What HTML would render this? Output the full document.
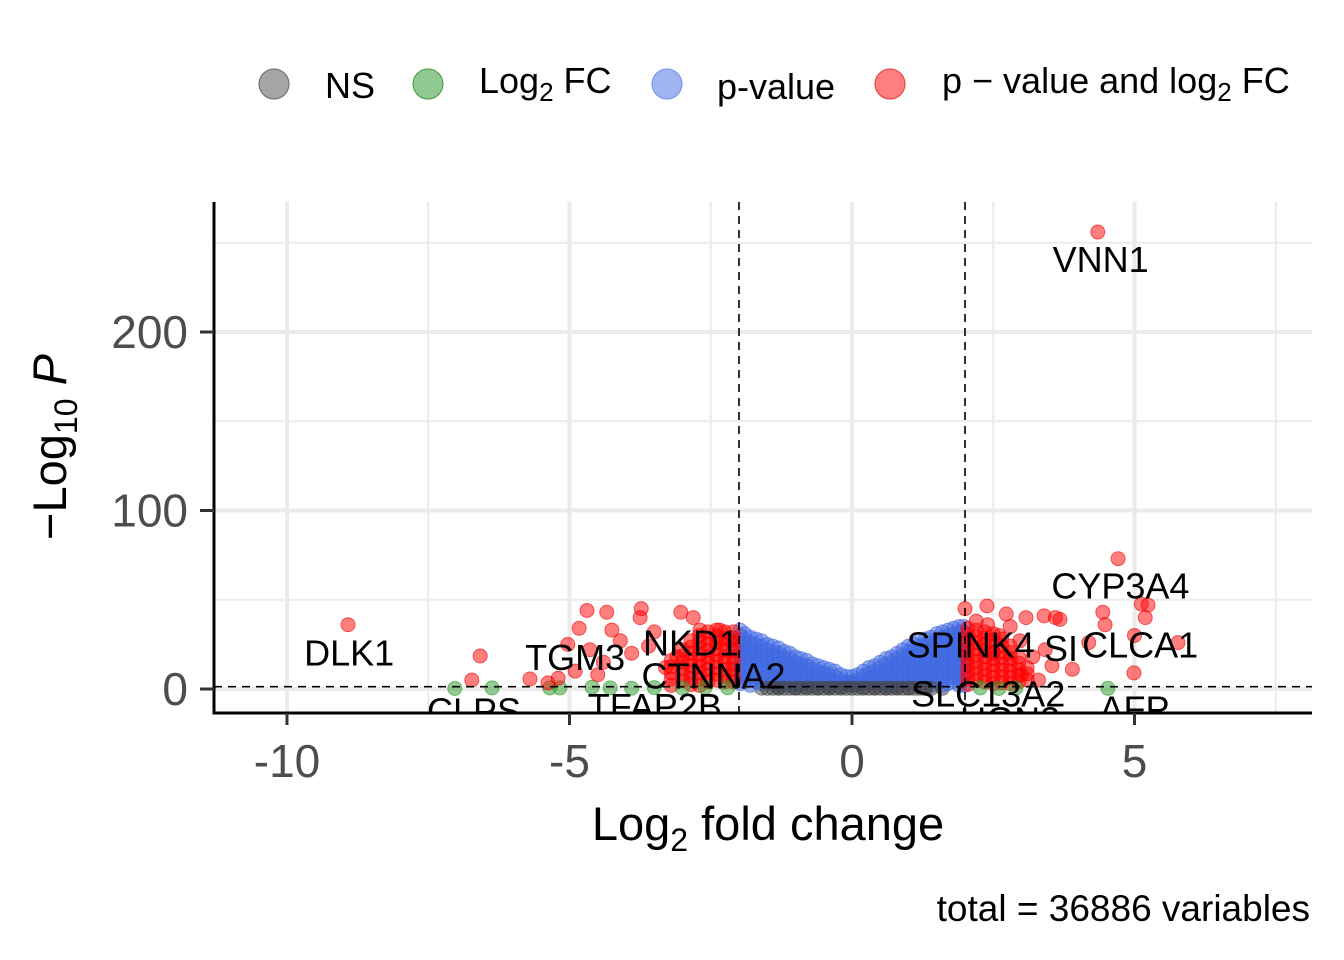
<!DOCTYPE html>
<html><head><meta charset="utf-8"><style>
body{margin:0;background:#fff}
svg{display:block;font-family:"Liberation Sans",Arial,sans-serif}
</style></head><body>
<svg id="chart" width="1344" height="960" viewBox="0 0 1344 960">
<defs><clipPath id="pc"><rect x="214" y="202" width="1098" height="511"/></clipPath></defs>
<g id="grid"></g>
<g id="pts" clip-path="url(#pc)"></g>
<g id="labs" clip-path="url(#pc)"></g>
<g id="axes"></g>
<g font-size="36" fill="#000">
  <circle cx="274" cy="84" r="15" fill="#7f7f7f" fill-opacity="0.7" stroke="#666"/>
  <text x="325" y="98">NS</text>
  <circle cx="428" cy="84" r="15" fill="#55aa55" fill-opacity="0.65" stroke="#3a9a3a"/>
  <text x="479" y="93">Log<tspan font-size="26" dy="8">2</tspan><tspan dy="-8"> FC</tspan></text>
  <circle cx="667" cy="84" r="15" fill="#4169e1" fill-opacity="0.5" stroke="#6d8ff0"/>
  <text x="717" y="99">p-value</text>
  <circle cx="890" cy="84" r="15" fill="#f00" fill-opacity="0.5" stroke="#e33"/>
  <text x="942" y="93">p − value and log<tspan font-size="26" dy="8">2</tspan><tspan dy="-8"> FC</tspan></text>
</g>
<text x="66" y="447" transform="rotate(-90 66 447)" text-anchor="middle" font-size="47">−Log<tspan font-size="32" dy="11">10</tspan><tspan dy="-11"> </tspan><tspan font-style="italic">P</tspan></text>
<text x="768" y="840" text-anchor="middle" font-size="47">Log<tspan font-size="32" dy="11">2</tspan><tspan dy="-11"> fold change</tspan></text>
<text x="1310" y="921" text-anchor="end" font-size="37">total = 36886 variables</text>
</svg>
<script>
const xTicks=[-10,-5,0,5];
const xMinor=[-7.5,-2.5,2.5,7.5];
const yTicks=[0,100,200];
const yMinor=[50,150,250];
const fcCut=[-2,2];
const pCut=1.3;
// scattered red points (log2FC, -log10P)
const redX=[4.35,4.71,-8.92,-6.58,-6.73,-5.7,-5.38,-4.69,-4.34,-3.73,-3.03,-2.81,-4.83,-4.25,-3.75,-3.5,-5.03,-4.64,-4.1,-2.69,-2.34,-2.16,-4.4,-3.9,-3.3,-3.1,-4.9,-5.2,-4.5,-3.6,
 2.0,2.39,2.73,3.08,3.4,3.68,4.44,4.48,5.12,5.24,5.19,4.19,5.77,4.99,3.9,3.54,3.42,2.97,3.2,2.6,2.5,3.0,2.8,3.3,5.0,2.2,2.4,3.6];
const redY=[256,73,36,18.5,5,5.6,3.4,44,43,45,43,40,34,33,40,32,25,22,27,33,33,27,15,20,12,18,10,6,8,24,
 45,46.5,42,40,41,39,43,36,47.6,47,40,26,26,9,11,13,22,27,18,30,20,8,35,5,30,38,36,40];
// dense red band columns: x and top value
const redBandX=[-3.2,-3.0,-2.85,-2.7,-2.55,-2.4,-2.25,-2.1,2.05,2.2,2.35,2.5,2.65,2.8,2.95,3.1];
const redBandTop=[16,22,27,30,32,33,32,32,34,33,32,31,28,24,18,12];
// green points
const greenX=[-7.03,-6.37,-5.35,-5.17,-4.28,-3.9,-3.5,-3.0,-2.6,-2.2,2.27,2.6,2.9,4.53,-4.6];
const greenY=[0.3,0.6,0.6,0.6,0.6,0.4,0.8,0.5,0.9,0.7,0.6,0.3,0.5,0.4,1.0];
// blue band columns
const blueX=[-1.98,-1.9,-1.8,-1.7,-1.6,-1.5,-1.4,-1.3,-1.2,-1.1,-1.0,-0.9,-0.8,-0.7,-0.6,-0.5,-0.4,-0.3,-0.2,-0.1,0,0.1,0.2,0.3,0.4,0.5,0.6,0.7,0.8,0.9,1.0,1.1,1.2,1.3,1.4,1.5,1.6,1.7,1.8,1.9,1.98];
const blueTop=[33,31,29,28,27,25,24,23,21,20,18,17,16,14,13,12,11,10,8,7,7,8,10,12,13,15,17,18,20,22,24,25,27,28,29,31,32,33,34,35,35];
// grey NS points
const greyX=[-1.6,-1.3,-1.0,-0.8,-0.6,-0.4,-0.2,-0.05,0.05,0.2,0.4,0.6,0.8,1.0,1.3,1.6,-0.1,0.1];
const greyY=[0.5,0.8,0.6,1.0,0.7,0.9,1.1,2.2,2.5,1.0,0.8,0.6,0.9,0.7,0.5,0.4,3.5,3.0];
const labelText=["VNN1","CYP3A4","DLK1","TGM3","NKD1","CTNNA2","TFAP2B","CLPS","SPINK4","SI","CLCA1","SLC13A2","UGN3","AFP"];
const labelX=[4.4,4.75,-8.9,-4.9,-2.85,-2.45,-3.49,-6.69,2.1,3.7,5.1,2.41,2.8,5.0];
const labelY=[241,58,20.5,18,26,7.5,-9.5,-12,25,23,25,-2.5,-17,-11];

const NS='http://www.w3.org/2000/svg';
const X=v=>852+v*56.5, Y=v=>689-v*1.785;
function mk(t,a,p){const e=document.createElementNS(NS,t);for(const k in a)e.setAttribute(k,a[k]);p.appendChild(e);return e;}
const grid=document.getElementById('grid'),pts=document.getElementById('pts'),labs=document.getElementById('labs'),axes=document.getElementById('axes');
xMinor.forEach(v=>{const l=mk('line',{x1:X(v),x2:X(v),y1:202,y2:713,stroke:'#ebebeb','stroke-width':2},grid);

});
yMinor.forEach(v=>{const l=mk('line',{x1:214,x2:1312,y1:Y(v),y2:Y(v),stroke:'#ebebeb','stroke-width':2},grid);

});
xTicks.forEach(v=>{const l=mk('line',{x1:X(v),x2:X(v),y1:202,y2:713,stroke:'#ebebeb','stroke-width':4},grid);

});
yTicks.forEach(v=>{const l=mk('line',{x1:214,x2:1312,y1:Y(v),y2:Y(v),stroke:'#ebebeb','stroke-width':4},grid);

});
function dot(x,y,fill,stroke,name){const c=mk('circle',{cx:X(x),cy:Y(y),r:7,fill:fill,'fill-opacity':0.5,stroke:stroke,'stroke-opacity':0.6,'stroke-width':1},pts);

}
greyX.forEach((x,i)=>dot(x,greyY[i],'#444','#444','ns-point'));
blueX.forEach((x,i)=>{for(let y=blueTop[i];y>1.5;y-=3)dot(x,y,'#4169e1','#4169e1','pvalue-point');});
for(let x=-1.5;x<=1.5;x+=0.1)dot(x,0.4,'#444','#444','ns-point');
redBandX.forEach((x,i)=>{for(let y=redBandTop[i];y>1.5;y-=3.5)dot(x,y,'#f00','#f00','both-point');});
greenX.forEach((x,i)=>dot(x,greenY[i],'#2a9a2a','#2a9a2a','log2fc-point'));
redX.forEach((x,i)=>dot(x,redY[i],'#f00','#e00','both-point'));
fcCut.forEach(v=>{const l=mk('line',{x1:X(v),x2:X(v),y1:202,y2:713,stroke:'#000','stroke-width':1.6,'stroke-dasharray':'8 6'},pts);

});
{const l=mk('line',{x1:214,x2:1312,y1:Y(pCut),y2:Y(pCut),stroke:'#000','stroke-width':1.6,'stroke-dasharray':'8 6'},pts);

}
labelText.forEach((t,i)=>{const e=mk('text',{x:X(labelX[i]),y:Y(labelY[i])+13,'text-anchor':'middle','font-size':36},labs);e.textContent=t;

});
mk('line',{x1:214,x2:214,y1:202,y2:714.5,stroke:'#000','stroke-width':3},axes);
mk('line',{x1:212.5,x2:1312,y1:713,y2:713,stroke:'#000','stroke-width':3},axes);
xTicks.forEach(v=>{mk('line',{x1:X(v),x2:X(v),y1:713,y2:725,stroke:'#333','stroke-width':3},axes);
const t=mk('text',{x:X(v),y:777,'text-anchor':'middle','font-size':46,fill:'#4d4d4d'},axes);t.textContent=v<0?'-'+(-v):String(v);

});
yTicks.forEach(v=>{mk('line',{x1:200,x2:214,y1:Y(v),y2:Y(v),stroke:'#333','stroke-width':3},axes);
const t=mk('text',{x:188,y:Y(v)+16,'text-anchor':'end','font-size':46,fill:'#4d4d4d'},axes);t.textContent=String(v);

});
</script>
</body></html>
